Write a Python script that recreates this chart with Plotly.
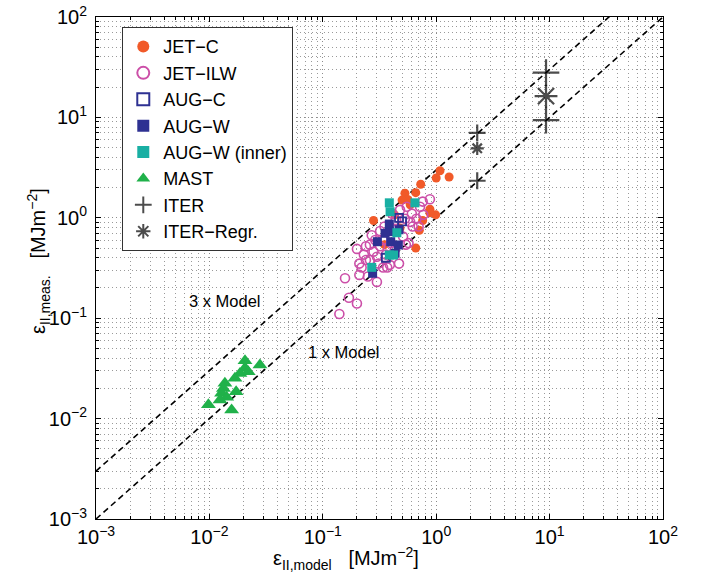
import plotly.graph_objects as go

# ---------------- data ----------------
jetc_x = [1.08, 1.30, 1.00, 0.73, 0.66, 0.53, 0.56, 0.50, 0.88, 0.99, 0.76, 0.28, 0.71, 0.66, 0.88, 0.59, 0.43, 0.48, 0.35]
jetc_y = [2.94, 2.55, 2.49, 2.16, 1.78, 1.76, 1.52, 1.50, 1.22, 1.07, 0.94, 0.94, 0.75, 0.50, 1.12, 1.35, 1.07, 0.79, 0.54]

jetilw_x = [0.88, 0.77, 0.70, 0.54, 0.47, 0.37, 0.30, 0.25, 0.21, 0.22, 0.21, 0.20, 0.157, 0.17, 0.20, 0.14,
            0.32, 0.35, 0.41, 0.48, 0.55, 0.61, 0.59, 0.51, 0.43, 0.36, 0.30, 0.26, 0.24, 0.29, 0.34, 0.62,
            0.67, 0.44, 0.40, 0.28, 0.23, 0.31, 0.53, 0.44, 0.32, 0.27, 0.72, 0.76, 0.26, 0.57, 0.24, 0.34, 0.39]
jetilw_y = [1.53, 1.07, 0.82, 0.54, 0.35, 0.32, 0.23, 0.26, 0.27, 0.32, 0.35, 0.49, 0.25, 0.16, 0.14, 0.11,
            0.74, 0.82, 1.10, 1.20, 1.29, 1.10, 0.91, 0.65, 0.48, 0.43, 0.41, 0.38, 0.52, 0.60, 0.60, 0.82,
            0.98, 0.76, 0.56, 0.46, 0.43, 0.35, 0.98, 0.95, 0.52, 0.67, 1.29, 1.45, 0.54, 0.56, 0.38, 0.32, 0.34]

augc_x = [0.50, 0.36, 0.47]
augc_y = [0.92, 0.40, 1.00]

augw_x = [0.386, 0.386, 0.354, 0.303, 0.397, 0.463, 0.434, 0.275, 0.47]
augw_y = [0.867, 0.728, 0.701, 0.578, 0.578, 0.536, 0.443, 0.280, 0.76]

augwi_x = [0.386, 0.392, 0.650, 0.45, 0.386, 0.42, 0.27]
augwi_y = [1.41, 1.15, 1.41, 0.71, 0.426, 0.426, 0.321]

mast_x = [0.0206, 0.0279, 0.0206, 0.0186, 0.0168, 0.0137, 0.0133, 0.0128, 0.0172, 0.0142, 0.0098, 0.0157, 0.0124, 0.0220]
mast_y = [0.0377, 0.0342, 0.0319, 0.0282, 0.0252, 0.0225, 0.0200, 0.0179, 0.0185, 0.0163, 0.0137, 0.0122, 0.0153, 0.0293]

iter_x = [2.3, 2.3, 9.3, 9.3]
iter_y = [7.0, 2.34, 27.9, 9.4]

iterr_x = [2.3, 9.3]
iterr_y = [4.92, 16.3]

model_x = [1e-3, 1e2]
model_factors = [3, 1]

decades = [-3, -2, -1, 0, 1, 2]
tick_text = ["10<sup>−3</sup>", "10<sup>−2</sup>", "10<sup>−1</sup>", "10<sup>0</sup>", "10<sup>1</sup>", "10<sup>2</sup>"]

# ---------------- styles ----------------
FONT = "Liberation Sans, Arial, Helvetica, sans-serif"
C_JETC = "#F15A29"
C_ILW = "#CC4FA8"
C_AUG = "#2E3192"
C_TEAL = "#19AFA3"
C_MAST = "#20B14A"

fig = go.Figure()

# model lines
for f in model_factors:
    fig.add_trace(go.Scatter(x=model_x, y=[v * f for v in model_x], mode="lines",
                             line=dict(color="black", width=1.6, dash="6px,4px"),
                             showlegend=False, hoverinfo="skip"))

def add(name, x, y, symbol, color, size, lw=0, lcolor=None, rank=0):
    fig.add_trace(go.Scatter(
        x=x, y=y, mode="markers", name=name, legendgroup=name, legendrank=rank,
        marker=dict(symbol=symbol, color=color, size=size,
                    line=dict(width=lw, color=lcolor if lcolor else color))))

add("JET−C", jetc_x, jetc_y, "circle", C_JETC, 9, rank=1)
add("JET−ILW", jetilw_x, jetilw_y, "circle-open", C_ILW, 9, lw=1.6, rank=2)
add("AUG−C", augc_x, augc_y, "square-open", C_AUG, 8, lw=1.8, rank=3)
add("AUG−W", augw_x, augw_y, "square", C_AUG, 9, rank=4)
add("AUG−W (inner)", augwi_x, augwi_y, "square", C_TEAL, 9, rank=5)
add("MAST", mast_x, mast_y, "triangle-up", C_MAST, 13, rank=6)
add("ITER", iter_x, iter_y, "cross-thin-open", "black", [12, 12, 19, 19], lw=2.2, rank=7)
add("ITER−Regr.", iterr_x, iterr_y, "asterisk-open", "black", [11, 19], lw=2.2, rank=8)

minor_vals = [m * 10 ** d for d in range(-3, 2) for m in range(2, 10)]

axis_common = dict(
    type="log", range=[-3, 2], automargin=False,
    tickmode="array", tickvals=[10 ** d for d in decades], ticktext=tick_text,
    showgrid=True, gridcolor="#8c8c8c", griddash="1px,3px", gridwidth=1,
    showline=True, linecolor="black", linewidth=1, mirror="allticks",
    ticks="inside", ticklen=5, tickcolor="black", zeroline=False,
    tickfont=dict(family=FONT, size=20, color="black"),
    minor=dict(tickmode="array", tickvals=minor_vals, showgrid=True, gridcolor="#9a9a9a",
               griddash="1px,3px", gridwidth=1, ticks="inside", ticklen=3, tickcolor="black"),
)

fig.update_xaxes(**axis_common)
fig.update_yaxes(**axis_common, ticklabelstandoff=4)

fig.update_layout(
    width=708, height=574,
    margin=dict(l=96, r=45, t=17, b=55),
    paper_bgcolor="white", plot_bgcolor="white",
    font=dict(family=FONT, color="black"),
    legend=dict(x=0.046, y=0.98, xanchor="left", yanchor="top",
                bgcolor="white", bordercolor="#333333", borderwidth=1.2,
                font=dict(family=FONT, size=18, color="black"),
                tracegroupgap=0, itemsizing="constant", entrywidth=158),
    annotations=[
        dict(x=-1.862, y=-0.829, xref="x", yref="y", text="3 x Model", showarrow=False,
             font=dict(family=FONT, size=16.5, color="black")),
        dict(x=-0.813, y=-1.337, xref="x", yref="y", text="1 x Model", showarrow=False,
             font=dict(family=FONT, size=16.5, color="black")),
        dict(x=346, y=558, xref="paper", yref="paper", xanchor="center", yanchor="middle",
             text="ε<sub>II,model</sub>&nbsp;&nbsp;&nbsp;[MJm<sup>−2</sup>]",
             showarrow=False, font=dict(family=FONT, size=20, color="black")),
        dict(x=38, y=261, xref="paper", yref="paper", xanchor="center", yanchor="middle",
             text="ε<sub>II,meas.</sub>&nbsp;&nbsp;&nbsp;[MJm<sup>−2</sup>]",
             textangle=-90, showarrow=False, font=dict(family=FONT, size=20, color="black")),
    ],
)

# convert pixel-placed title annotations to paper coords
pw, ph = 708 - 96 - 45, 574 - 17 - 55
for a in fig.layout.annotations:
    if a.xref == "paper":
        a.x = (a.x - 96) / pw
        a.y = 1 - (a.y - 17) / ph

fig.write_html("out.html", config={"displayModeBar": False},
               post_script="document.body.style.margin='0';")
